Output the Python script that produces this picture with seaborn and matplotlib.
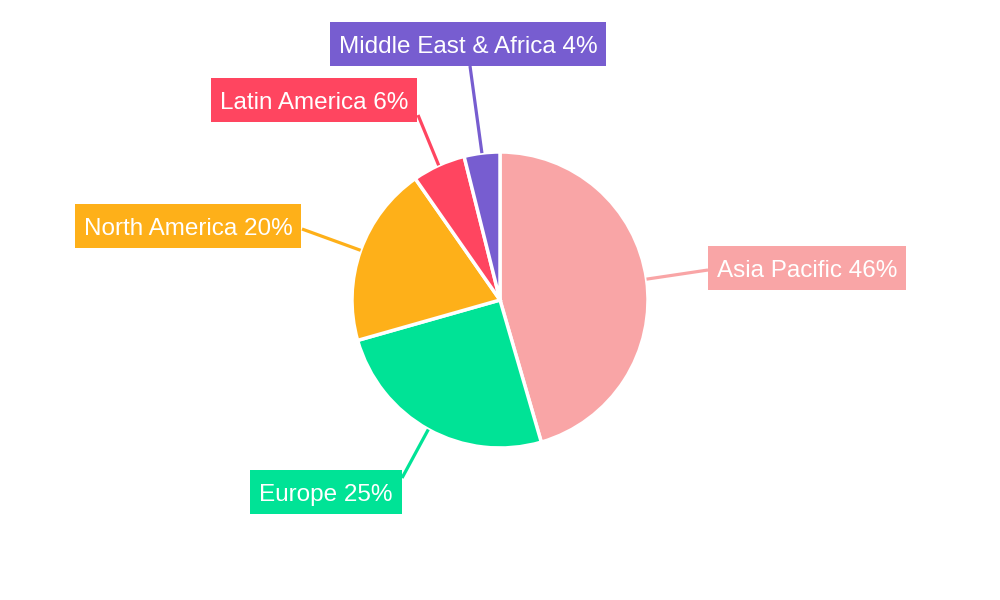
import numpy as np
import matplotlib.pyplot as plt
from matplotlib.patches import Rectangle
import seaborn as sns

# Regional share data
regions = ["Asia Pacific", "Europe", "North America", "Latin America", "Middle East & Africa"]
shares = [45.5, 25.1, 19.7, 5.8, 3.9]
pct_labels = [46, 25, 20, 6, 4]

# Styling / layout
colors = ["#F9A5A6", "#00E396", "#FEB019", "#FF4560", "#775DD0"]
# label box centers and leader line end points in pixel coords (y down)
label_centers = [(807, 268), (326, 492), (188, 226), (314, 100), (468, 44)]
line_ends = [(708, 270), (402, 478), (302, 229), (418, 115), (470, 66)]

sns.set_theme(style="white")
plt.rcParams['font.family'] = ['Liberation Sans', 'DejaVu Sans']

W, H = 1000, 600
cx, cy, r = 500, 300, 148
box_h, pad_x = 44, 9

fig = plt.figure(figsize=(10, 6), dpi=100)
ax = fig.add_axes([0, 0, 1, 1])

wedges, _ = ax.pie(
    shares,
    colors=colors,
    startangle=90,
    counterclock=False,
    center=(cx, H - cy),
    radius=r,
    wedgeprops=dict(edgecolor="white", linewidth=2.5),
    frame=True,
)
ax.set_xlim(0, W)
ax.set_ylim(0, H)
ax.set_aspect("equal")
ax.axis("off")

renderer = fig.canvas.get_renderer()
for w, name, pct, col, (tx, ty), (ex, ey) in zip(
        wedges, regions, pct_labels, colors, label_centers, line_ends):
    mid = np.deg2rad((w.theta1 + w.theta2) / 2)
    sx = cx + r * np.cos(mid)
    sy = (H - cy) + r * np.sin(mid)
    ax.plot([sx, ex], [sy, H - ey], color=col, lw=2.3, solid_capstyle="butt", zorder=1)
    t = ax.text(tx, H - ty - 9, f"{name} {pct}%", color="white", fontsize=17.5,
                ha="center", va="baseline", zorder=3)
    tw = t.get_window_extent(renderer).width
    ax.add_patch(Rectangle((tx - tw / 2 - pad_x, H - ty - box_h / 2), tw + 2 * pad_x, box_h,
                           facecolor=col, edgecolor="none", zorder=2))

plt.savefig("out.png", dpi=100)
plt.close()
